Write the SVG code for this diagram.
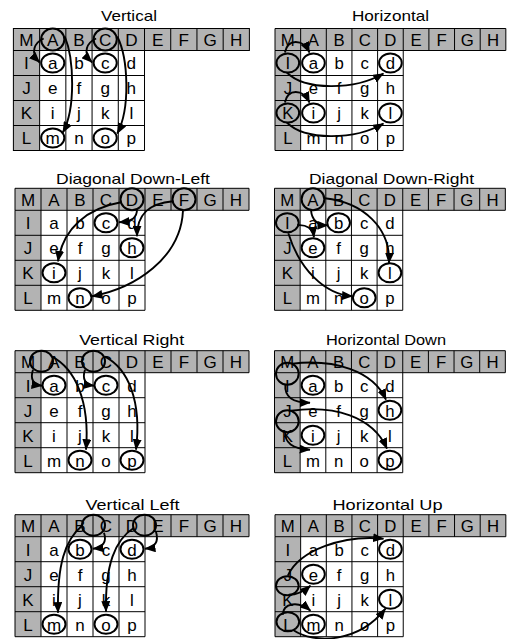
<svg xmlns="http://www.w3.org/2000/svg" xmlns:xlink="http://www.w3.org/1999/xlink" width="509" height="639" viewBox="0 0 509 639">
<style>
.t{font-family:"Liberation Sans",Arial,sans-serif;font-size:17px;text-anchor:middle;fill:#000}
.ttl{font-family:"Liberation Sans",Arial,sans-serif;font-size:15px;text-anchor:middle;fill:#000}
.c{fill:none;stroke:#000;stroke-width:2}
.a{fill:none;stroke:#000;stroke-width:1.9;marker-end:url(#ah)}
</style>
<defs>
<marker id="ah" viewBox="0 0 11 9" refX="10.5" refY="4.5" markerWidth="11" markerHeight="9" markerUnits="userSpaceOnUse" orient="auto"><path d="M0 0L11 4.5L0 9z" fill="#000"/></marker>
<g id="grid">
<rect fill="#b3b3b3" x="0" y="0" width="234" height="22"/>
<rect fill="#b3b3b3" x="0" y="22" width="26" height="100"/>
<rect fill="#fff" x="26" y="22" width="104" height="100"/>
<path d="M0 0H234V22H0Z M26 0V122 M52 0V122 M78 0V122 M104 0V122 M130 0V122 M156 0V22 M182 0V22 M208 0V22 M0 22V122H130 M0 47H130 M0 72H130 M0 97H130" stroke="#000" stroke-width="1" fill="none"/>
</g>
</defs>
<rect width="509" height="639" fill="#fff"/>

<g id="titles">
<text class="ttl" x="129" y="20.7" textLength="56" lengthAdjust="spacingAndGlyphs">Vertical</text>
<text class="ttl" x="390.5" y="20.7" textLength="77" lengthAdjust="spacingAndGlyphs">Horizontal</text>
<text class="ttl" x="133" y="184" textLength="154" lengthAdjust="spacingAndGlyphs">Diagonal Down-Left</text>
<text class="ttl" x="391.5" y="184" textLength="165" lengthAdjust="spacingAndGlyphs">Diagonal Down-Right</text>
<text class="ttl" x="131.7" y="345.3" textLength="105" lengthAdjust="spacingAndGlyphs">Vertical Right</text>
<text class="ttl" x="386" y="345.3" textLength="120" lengthAdjust="spacingAndGlyphs">Horizontal Down</text>
<text class="ttl" x="132.5" y="509.7" textLength="94" lengthAdjust="spacingAndGlyphs">Vertical Left</text>
<text class="ttl" x="387.5" y="509.7" textLength="110" lengthAdjust="spacingAndGlyphs">Horizontal Up</text>
</g>

<g id="p1-vertical" transform="translate(13.4,28.5) scale(1.0085,1)">
<use xlink:href="#grid" href="#grid"/>
<g class="t"><text x="13" y="17.5">M</text><text x="39" y="17.5">A</text><text x="65" y="17.5">B</text><text x="91" y="17.5">C</text><text x="117" y="17.5">D</text><text x="143" y="17.5">E</text><text x="169" y="17.5">F</text><text x="195" y="17.5">G</text><text x="221" y="17.5">H</text>
<text x="13" y="41">I</text><text x="39" y="41">a</text><text x="65" y="41">b</text><text x="91" y="41">c</text><text x="117" y="41">d</text>
<text x="13" y="66">J</text><text x="39" y="66">e</text><text x="65" y="66">f</text><text x="91" y="66">g</text><text x="117" y="66">h</text>
<text x="13" y="91">K</text><text x="39" y="91">i</text><text x="65" y="91">j</text><text x="91" y="91">k</text><text x="117" y="91">l</text>
<text x="13" y="116">L</text><text x="39" y="116">m</text><text x="65" y="116">n</text><text x="91" y="116">o</text><text x="117" y="116">p</text></g>
<ellipse class="c" cx="39" cy="11" rx="11.5" ry="11"/><ellipse class="c" cx="91" cy="11" rx="11.5" ry="11"/>
<ellipse class="c" cx="39" cy="34.5" rx="11.5" ry="9.5"/><ellipse class="c" cx="91" cy="34.5" rx="11.5" ry="9.5"/>
<ellipse class="c" cx="39" cy="109.5" rx="11.5" ry="9.5"/><ellipse class="c" cx="91" cy="109.5" rx="11.5" ry="9.5"/>
</g>

<g id="p2-horizontal" transform="translate(275,28.5) scale(0.9865,1)">
<use xlink:href="#grid" href="#grid"/>
<g class="t"><text x="13" y="17.5">M</text><text x="39" y="17.5">A</text><text x="65" y="17.5">B</text><text x="91" y="17.5">C</text><text x="117" y="17.5">D</text><text x="143" y="17.5">E</text><text x="169" y="17.5">F</text><text x="195" y="17.5">G</text><text x="221" y="17.5">H</text>
<text x="13" y="41">I</text><text x="39" y="41">a</text><text x="65" y="41">b</text><text x="91" y="41">c</text><text x="117" y="41">d</text>
<text x="13" y="66">J</text><text x="39" y="66">e</text><text x="65" y="66">f</text><text x="91" y="66">g</text><text x="117" y="66">h</text>
<text x="13" y="91">K</text><text x="39" y="91">i</text><text x="65" y="91">j</text><text x="91" y="91">k</text><text x="117" y="91">l</text>
<text x="13" y="116">L</text><text x="39" y="116">m</text><text x="65" y="116">n</text><text x="91" y="116">o</text><text x="117" y="116">p</text></g>
<ellipse class="c" cx="13" cy="34.5" rx="11.5" ry="9.5"/><ellipse class="c" cx="39" cy="34.5" rx="11.5" ry="9.5"/><ellipse class="c" cx="117" cy="34.5" rx="11.5" ry="9.5"/>
<ellipse class="c" cx="13" cy="84.5" rx="11.5" ry="9.5"/><ellipse class="c" cx="39" cy="84.5" rx="11.5" ry="9.5"/><ellipse class="c" cx="117" cy="84.5" rx="11.5" ry="9.5"/>
</g>

<g id="p3-diagonal-down-left" transform="translate(15,188.3)">
<use xlink:href="#grid" href="#grid"/>
<g class="t"><text x="13" y="17.5">M</text><text x="39" y="17.5">A</text><text x="65" y="17.5">B</text><text x="91" y="17.5">C</text><text x="117" y="17.5">D</text><text x="143" y="17.5">E</text><text x="169" y="17.5">F</text><text x="195" y="17.5">G</text><text x="221" y="17.5">H</text>
<text x="13" y="41">I</text><text x="39" y="41">a</text><text x="65" y="41">b</text><text x="91" y="41">c</text><text x="117" y="41">d</text>
<text x="13" y="66">J</text><text x="39" y="66">e</text><text x="65" y="66">f</text><text x="91" y="66">g</text><text x="117" y="66">h</text>
<text x="13" y="91">K</text><text x="39" y="91">i</text><text x="65" y="91">j</text><text x="91" y="91">k</text><text x="117" y="91">l</text>
<text x="13" y="116">L</text><text x="39" y="116">m</text><text x="65" y="116">n</text><text x="91" y="116">o</text><text x="117" y="116">p</text></g>
<ellipse class="c" cx="117" cy="11" rx="11.5" ry="11"/><ellipse class="c" cx="169" cy="11" rx="11.5" ry="11"/>
<ellipse class="c" cx="91" cy="34.5" rx="11.5" ry="9.5"/><ellipse class="c" cx="117" cy="59.5" rx="11.5" ry="9.5"/>
<ellipse class="c" cx="39" cy="84.5" rx="11.5" ry="9.5"/><ellipse class="c" cx="65" cy="109.5" rx="11.5" ry="9.5"/>
</g>

<g id="p4-diagonal-down-right" transform="translate(274.5,188.3) scale(0.9865,1)">
<use xlink:href="#grid" href="#grid"/>
<g class="t"><text x="13" y="17.5">M</text><text x="39" y="17.5">A</text><text x="65" y="17.5">B</text><text x="91" y="17.5">C</text><text x="117" y="17.5">D</text><text x="143" y="17.5">E</text><text x="169" y="17.5">F</text><text x="195" y="17.5">G</text><text x="221" y="17.5">H</text>
<text x="13" y="41">I</text><text x="39" y="41">a</text><text x="65" y="41">b</text><text x="91" y="41">c</text><text x="117" y="41">d</text>
<text x="13" y="66">J</text><text x="39" y="66">e</text><text x="65" y="66">f</text><text x="91" y="66">g</text><text x="117" y="66">h</text>
<text x="13" y="91">K</text><text x="39" y="91">i</text><text x="65" y="91">j</text><text x="91" y="91">k</text><text x="117" y="91">l</text>
<text x="13" y="116">L</text><text x="39" y="116">m</text><text x="65" y="116">n</text><text x="91" y="116">o</text><text x="117" y="116">p</text></g>
<ellipse class="c" cx="39" cy="11" rx="11.5" ry="11"/><ellipse class="c" cx="13" cy="34.5" rx="11.5" ry="9.5"/>
<ellipse class="c" cx="65" cy="34.5" rx="11.5" ry="9.5"/><ellipse class="c" cx="39" cy="59.5" rx="11.5" ry="9.5"/>
<ellipse class="c" cx="117" cy="84.5" rx="11.5" ry="9.5"/><ellipse class="c" cx="91" cy="109.5" rx="11.5" ry="9.5"/>
</g>

<g id="p5-vertical-right" transform="translate(15,350.7)">
<use xlink:href="#grid" href="#grid"/>
<g class="t"><text x="13" y="17.5">M</text><text x="39" y="17.5">A</text><text x="65" y="17.5">B</text><text x="91" y="17.5">C</text><text x="117" y="17.5">D</text><text x="143" y="17.5">E</text><text x="169" y="17.5">F</text><text x="195" y="17.5">G</text><text x="221" y="17.5">H</text>
<text x="13" y="41">I</text><text x="39" y="41">a</text><text x="65" y="41">b</text><text x="91" y="41">c</text><text x="117" y="41">d</text>
<text x="13" y="66">J</text><text x="39" y="66">e</text><text x="65" y="66">f</text><text x="91" y="66">g</text><text x="117" y="66">h</text>
<text x="13" y="91">K</text><text x="39" y="91">i</text><text x="65" y="91">j</text><text x="91" y="91">k</text><text x="117" y="91">l</text>
<text x="13" y="116">L</text><text x="39" y="116">m</text><text x="65" y="116">n</text><text x="91" y="116">o</text><text x="117" y="116">p</text></g>
<ellipse class="c" cx="26.5" cy="10.5" rx="11.5" ry="10.5"/><ellipse class="c" cx="78.5" cy="10.5" rx="11.5" ry="10.5"/>
<ellipse class="c" cx="39" cy="34.5" rx="11.5" ry="9.5"/><ellipse class="c" cx="91" cy="34.5" rx="11.5" ry="9.5"/>
<ellipse class="c" cx="65" cy="109.5" rx="11.5" ry="9.5"/><ellipse class="c" cx="117" cy="109.5" rx="11.5" ry="9.5"/>
</g>

<g id="p6-horizontal-down" transform="translate(274.5,350.7) scale(0.9865,1)">
<use xlink:href="#grid" href="#grid"/>
<g class="t"><text x="13" y="17.5">M</text><text x="39" y="17.5">A</text><text x="65" y="17.5">B</text><text x="91" y="17.5">C</text><text x="117" y="17.5">D</text><text x="143" y="17.5">E</text><text x="169" y="17.5">F</text><text x="195" y="17.5">G</text><text x="221" y="17.5">H</text>
<text x="13" y="41">I</text><text x="39" y="41">a</text><text x="65" y="41">b</text><text x="91" y="41">c</text><text x="117" y="41">d</text>
<text x="13" y="66">J</text><text x="39" y="66">e</text><text x="65" y="66">f</text><text x="91" y="66">g</text><text x="117" y="66">h</text>
<text x="13" y="91">K</text><text x="39" y="91">i</text><text x="65" y="91">j</text><text x="91" y="91">k</text><text x="117" y="91">l</text>
<text x="13" y="116">L</text><text x="39" y="116">m</text><text x="65" y="116">n</text><text x="91" y="116">o</text><text x="117" y="116">p</text></g>
<ellipse class="c" cx="13" cy="23" rx="11.5" ry="11"/><ellipse class="c" cx="13" cy="70.5" rx="11.5" ry="11"/>
<ellipse class="c" cx="39" cy="34.5" rx="11.5" ry="9.5"/><ellipse class="c" cx="117" cy="59.5" rx="11.5" ry="9.5"/>
<ellipse class="c" cx="39" cy="84.5" rx="11.5" ry="9.5"/><ellipse class="c" cx="117" cy="109.5" rx="11.5" ry="9.5"/>
</g>

<g id="p7-vertical-left" transform="translate(15,514.7)">
<use xlink:href="#grid" href="#grid"/>
<g class="t"><text x="13" y="17.5">M</text><text x="39" y="17.5">A</text><text x="65" y="17.5">B</text><text x="91" y="17.5">C</text><text x="117" y="17.5">D</text><text x="143" y="17.5">E</text><text x="169" y="17.5">F</text><text x="195" y="17.5">G</text><text x="221" y="17.5">H</text>
<text x="13" y="41">I</text><text x="39" y="41">a</text><text x="65" y="41">b</text><text x="91" y="41">c</text><text x="117" y="41">d</text>
<text x="13" y="66">J</text><text x="39" y="66">e</text><text x="65" y="66">f</text><text x="91" y="66">g</text><text x="117" y="66">h</text>
<text x="13" y="91">K</text><text x="39" y="91">i</text><text x="65" y="91">j</text><text x="91" y="91">k</text><text x="117" y="91">l</text>
<text x="13" y="116">L</text><text x="39" y="116">m</text><text x="65" y="116">n</text><text x="91" y="116">o</text><text x="117" y="116">p</text></g>
<ellipse class="c" cx="78.5" cy="10.5" rx="11.5" ry="10.5"/><ellipse class="c" cx="129.5" cy="10.5" rx="11.5" ry="10.5"/>
<ellipse class="c" cx="65" cy="34.5" rx="11.5" ry="9.5"/><ellipse class="c" cx="117" cy="34.5" rx="11.5" ry="9.5"/>
<ellipse class="c" cx="39" cy="109.5" rx="11.5" ry="9.5"/><ellipse class="c" cx="91" cy="109.5" rx="11.5" ry="9.5"/>
</g>

<g id="p8-horizontal-up" transform="translate(275,514.7) scale(0.9865,1)">
<use xlink:href="#grid" href="#grid"/>
<g class="t"><text x="13" y="17.5">M</text><text x="39" y="17.5">A</text><text x="65" y="17.5">B</text><text x="91" y="17.5">C</text><text x="117" y="17.5">D</text><text x="143" y="17.5">E</text><text x="169" y="17.5">F</text><text x="195" y="17.5">G</text><text x="221" y="17.5">H</text>
<text x="13" y="41">I</text><text x="39" y="41">a</text><text x="65" y="41">b</text><text x="91" y="41">c</text><text x="117" y="41">d</text>
<text x="13" y="66">J</text><text x="39" y="66">e</text><text x="65" y="66">f</text><text x="91" y="66">g</text><text x="117" y="66">h</text>
<text x="13" y="91">K</text><text x="39" y="91">i</text><text x="65" y="91">j</text><text x="91" y="91">k</text><text x="117" y="91">l</text>
<text x="13" y="116">L</text><text x="39" y="116">m</text><text x="65" y="116">n</text><text x="91" y="116">o</text><text x="117" y="116">p</text></g>
<ellipse class="c" cx="12.5" cy="71" rx="11.5" ry="9.5"/><ellipse class="c" cx="13" cy="107" rx="11.5" ry="9.5"/>
<ellipse class="c" cx="117" cy="34.5" rx="11.5" ry="9.5"/><ellipse class="c" cx="39" cy="59.5" rx="11.5" ry="9.5"/>
<ellipse class="c" cx="117" cy="84.5" rx="11.5" ry="9.5"/><ellipse class="c" cx="39" cy="109.5" rx="11.5" ry="9.5"/>
</g>

<g id="connectors">
<g transform="translate(13.4,28.5) scale(1.0085,1)">
<path class="a" d="M30 10C21 14 16 24 26 34"/>
<path class="a" d="M51 8C60 30 62 80 49 104"/>
<path class="a" d="M82 10C73 14 68 24 78 34"/>
<path class="a" d="M103 8C114 30 116 80 103 105"/>
</g>
<g transform="translate(275,28.5) scale(0.9865,1)">
<path class="a" d="M10 24C13 10 28 10 35 24"/>
<path class="a" d="M12 44C30 62 80 62 110 45"/>
<path class="a" d="M10 74C13 60 28 60 35 74"/>
<path class="a" d="M12 94C30 112 80 112 110 95"/>
</g>
<g transform="translate(15,188.3)">
<path class="a" d="M122 21C122 29 118 33 104 34"/>
<path class="a" d="M158 13C135 15 122 25 122 48"/>
<path class="a" d="M106 14C72 20 48 40 43 73"/>
<path class="a" d="M168 22C166 70 120 100 77 108"/>
</g>
<g transform="translate(274.5,188.3) scale(0.9865,1)">
<path class="a" d="M37 22C38 32 44 37 54 37"/>
<path class="a" d="M23 37C32 36 39 40 40 49"/>
<path class="a" d="M51 10C90 14 118 40 116 75"/>
<path class="a" d="M14 45C25 80 50 106 79 108"/>
</g>
<g transform="translate(15,350.7)">
<path class="a" d="M18 19C15 28 18 34 27 35"/>
<path class="a" d="M37 6C60 18 75 50 71 99"/>
<path class="a" d="M70 19C67 28 70 34 79 35"/>
<path class="a" d="M90 6C113 18 127 50 121 99"/>
</g>
<g transform="translate(274.5,350.7) scale(0.9865,1)">
<path class="a" d="M11 34C10 46 18 52 36 52"/>
<path class="a" d="M18 13C60 8 100 20 113 49"/>
<path class="a" d="M11 81C10 92 18 98 36 99"/>
<path class="a" d="M17 60C60 54 100 66 114 98"/>
</g>
<g transform="translate(15,514.7)">
<path class="a" d="M89 18C92 27 88 33 78 34"/>
<path class="a" d="M141 17C144 27 140 33 130 34"/>
<path class="a" d="M67 11C50 25 42 50 43 98"/>
<path class="a" d="M119 13C100 25 90 50 91 97"/>
</g>
<g transform="translate(275,514.7) scale(0.9865,1)">
<path class="a" d="M13 61C25 35 70 20 110 24"/>
<path class="a" d="M14 80C22 80 29 77 36 71"/>
<path class="a" d="M8 100C8 88 24 86 36 96"/>
<path class="a" d="M18 115C40 130 85 128 112 94"/>
</g>
</g>
</svg>
